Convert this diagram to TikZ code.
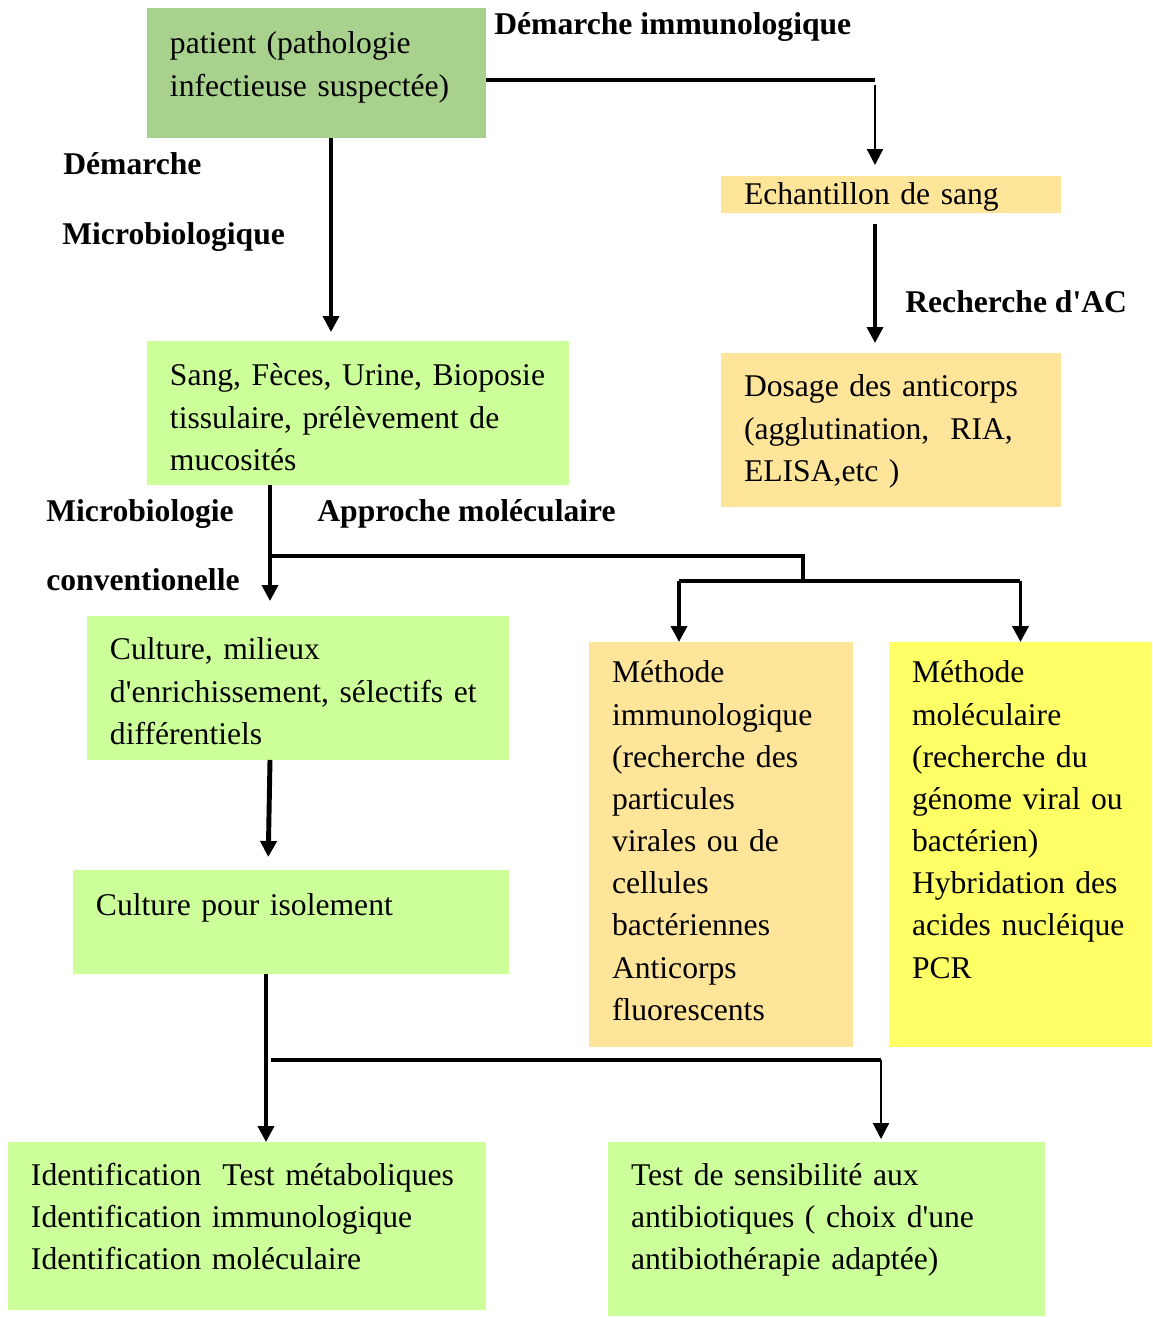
\documentclass[tikz,border=0pt]{standalone}
\usepackage{fontspec}
\setmainfont{Liberation Serif}[Ligatures=TeXOff]
\usetikzlibrary{arrows.meta}

\definecolor{patientgreen}{HTML}{A9D18E}
\definecolor{lightgreen}{HTML}{CCFF99}
\definecolor{sand}{HTML}{FFE599}
\definecolor{lemon}{HTML}{FFFF66}

\begin{document}
\begin{tikzpicture}[x=0.02cm, y=-0.02cm,
      font=\fontsize{18}{24}\selectfont,
      >={Triangle[width=0.32cm, length=0.32cm]},
      box/.style={fill=#1, anchor=north west, align=left, inner xsep=0.46cm, inner ysep=0pt, outer sep=0pt},
      lab/.style={font=\fontsize{18}{24}\selectfont\bfseries, anchor=base west, inner sep=0pt},
      line/.style={line width=2.1pt},
      thinline/.style={line width=1.3pt}]
      \useasboundingbox (0,0) rectangle (1152,1317);
      \node (patient) [box=patientgreen, text width=5.86cm, text height=0.92cm, text depth=1.68cm] at (147,8)
            {patient (pathologie\\ infectieuse suspectée)};
      \node (echant) [box=sand, text width=5.88cm, text height=0.58cm, text depth=0.16cm] at (721,176)
            {Echantillon de sang};
      \node (dosage) [box=sand, text width=5.88cm, text height=0.88cm, text depth=2.2cm] at (721,353)
            {Dosage des anticorps\\ (agglutination,~ RIA,\\ ELISA,etc )};
      \node (sang) [box=lightgreen, text width=7.52cm, text height=0.9cm, text depth=1.98cm] at (147,341)
            {Sang, Fèces, Urine, Bioposie\\ tissulaire, prélèvement de\\ mucosités};
      \node (culture) [box=lightgreen, text width=7.52cm, text height=0.88cm, text depth=2.0cm] at (87,616)
            {Culture, milieux\\ d'enrichissement, sélectifs et\\ différentiels};
      \node (isolement) [box=lightgreen, text width=7.8cm, text height=0.9cm, text depth=1.18cm] at (73,870)
            {Culture pour isolement};
      \node (immuno) [box=sand, text width=4.36cm, text height=0.82cm, text depth=7.28cm] at (589,642)
            {Méthode\\ immunologique\\ (recherche des\\ particules\\ virales ou de\\ cellules\\ bactériennes\\ Anticorps\\ fluorescents};
      \node (mol) [box=lemon, text width=4.34cm, text height=0.82cm, text depth=7.28cm] at (889,642)
            {Méthode\\ moléculaire\\ (recherche du\\ génome viral ou\\ bactérien)\\ Hybridation des\\ acides nucléique\\ PCR};
      \node (ident) [box=lightgreen, text width=8.64cm, text height=0.86cm, text depth=2.5cm] at (8,1142)
            {Identification~ Test métaboliques\\ Identification immunologique\\ Identification moléculaire};
      \node (test) [box=lightgreen, text width=7.82cm, text height=0.86cm, text depth=2.62cm] at (608,1142)
            {Test de sensibilité aux\\ antibiotiques ( choix d'une\\ antibiothérapie adaptée)};

      \node (immunolab) [lab] at (494,35) {Démarche immunologique};
      \node (microlab) [lab] at (63,175) {Démarche};
      \node (microlabb) [lab] at (62,245) {Microbiologique};
      \node (aclab) [lab] at (905,313) {Recherche d'AC};
      \node (convlab) [lab] at (46,521) {Microbiologie};
      \node (convlabb) [lab] at (46,590) {conventionelle};
      \node (mollab) [lab] at (317,521) {Approche moléculaire};

      \coordinate (bend) at (875,80);
      \coordinate (fork) at (803,581);
      \coordinate (forkb) at (881,1060);
      \draw[line] (patient.east |- bend) -- (bend);
      \draw[thinline, ->, shorten <=0.1cm, shorten >=0.22cm] (bend) -- (echant.north -| bend);
      \draw[line, ->, shorten <=0.22cm, shorten >=0.2cm] (echant.south -| bend) -- (dosage.north -| bend);
      \draw[line, ->, shorten >=0.18cm] (patient.south -| 331,0) -- (sang.north -| 331,0);
      \draw[line, ->, shorten >=0.3cm] (sang.south -| 270,0) -- (culture.north -| 270,0);
      \draw[line] (sang.south -| 270,0) ++(0,71) -| (fork)
                  (fork -| 679,0) -- (fork -| mol.north);
      \draw[line] (fork -| 679,0) edge[->] (immuno.north -| 679,0)
                  (fork -| mol.north) edge[->] (mol.north);
      \draw[line width=2.8pt, ->, shorten >=0.26cm] (culture.south -| 270,0) -- (isolement.north -| 268,0);
      \draw[line, ->] (isolement.south -| 266,0) -- (ident.north -| 266,0);
      \draw[line] (forkb -| 271,0) -- (forkb);
      \draw[thinline, ->, shorten >=0.06cm] (forkb) -- (test.north -| forkb);
\end{tikzpicture}
\end{document}
